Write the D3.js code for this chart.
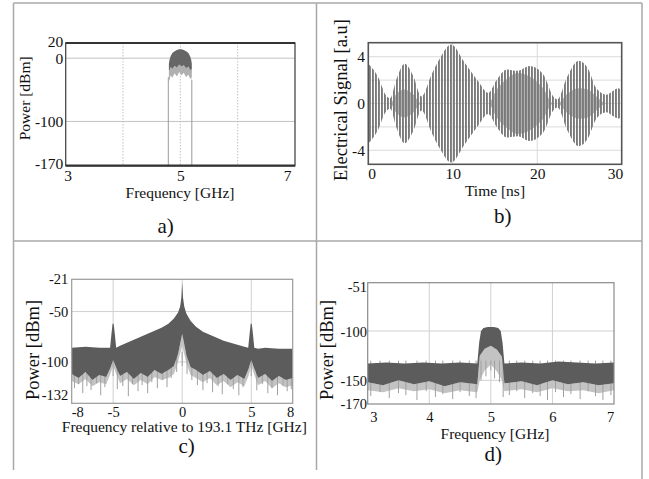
<!DOCTYPE html>
<html>
<head>
<meta charset="utf-8">
<script src="https://d3js.org/d3.v7.min.js"></script>
<style>
body { margin: 0; background: #fff; }
svg { display: block; }
</style>
</head>
<body>
<svg width="649" height="479"></svg>
<script>
// ---- a) RF spectrum of the drive signal ----
let aFreq  = [4.80, 4.81, 4.83, 4.86, 4.90, 4.94, 4.98, 5.02, 5.06, 5.10, 5.14, 5.17, 5.19, 5.20]
let aUpper = [-9, -3, 3, 8, 11, 13, 14, 14, 13, 11, 8, 3, -3, -9]
let aDark  = [-18, -20, -14, -17, -12, -15, -10, -13, -11, -16, -13, -19, -17, -21]
let aLight = [-32, -36, -27, -31, -24, -29, -22, -27, -23, -30, -26, -33, -30, -35]
let aEdgeFreq = [4.79, 5.20]
let aEdgeTop  = [-30, -34]

// ---- b) electrical signal, outer / inner envelope ----
let bTime  = [0, 0.6, 1.2, 2.0, 2.6, 3.3, 4.3, 5.3, 6.3, 7.5, 8.5, 9.8, 11.4, 13.0, 14.2, 15.2, 16.4, 17.7, 19.1, 20.7, 21.9, 22.4, 23.5, 24.9, 26.0, 27.0, 28.2, 29.0, 29.6, 30]
let bOuter = [3.4, 2.9, 2.2, 0.8, 0.45, 2.0, 3.4, 2.4, 0.6, 2.5, 3.9, 5.05, 3.5, 1.9, 0.9, 2.0, 2.9, 2.8, 3.2, 2.5, 0.6, 0.35, 2.2, 3.65, 3.0, 1.3, 0.75, 1.1, 1.3, 1.0]
let bInner = [0, 0, 0, 0, 0, 0.8, 1.2, 0.8, 0, 0, 0, 0, 0, 0, 0, 1.2, 2.1, 2.6, 2.3, 1.3, 0, 0, 0.8, 1.3, 1.2, 0.6, 0, 0, 0, 0]

// ---- c) optical spectrum ----
let cEnvFreq = [-8, -7, -6, -5.5, -5.22, -5.12, -5.04, -4.96, -4.88, -4.78, -4.5, -4, -3.5, -3, -2.5, -2, -1.5, -1, -0.6, -0.3,
                -0.15, -0.06, -0.02, 0, 0.02, 0.06, 0.15, 0.3, 0.6, 1, 1.5, 2, 2.5, 3, 3.5, 4, 4.5, 4.78, 4.88, 4.96,
                5.04, 5.12, 5.22, 5.5, 6, 7, 8]
let cUpper = [-86, -85, -86, -86, -86, -72, -62, -62, -72, -86, -84, -81, -78, -75, -72, -69, -66, -62, -57, -51,
              -45, -36, -26, -21, -26, -36, -45, -52, -59, -65, -70, -73, -76, -79, -81, -83, -85, -86, -72, -62,
              -62, -72, -86, -87, -86, -87, -87]
let cLowFreq = [-8, -7.5, -7, -6.5, -6, -5.5, -5.2, -5, -4.8, -4.5, -4, -3.5, -3, -2.5, -2, -1.5, -1, -0.6, -0.3, 0,
                0.3, 0.6, 1, 1.5, 2, 2.5, 3, 3.5, 4, 4.5, 4.8, 5, 5.2, 5.5, 6, 6.5, 7, 7.5, 8]
let cDark  = [-112, -116, -110, -118, -113, -115, -106, -98, -105, -114, -110, -117, -111, -115, -108, -112, -108, -104, -92, -72,
              -93, -105, -108, -113, -109, -116, -112, -118, -113, -117, -107, -98, -106, -116, -112, -119, -114, -118, -116]
let cLight = [-119, -122, -117, -124, -120, -122, -112, -104, -111, -121, -117, -123, -118, -122, -115, -118, -116, -112, -100, -84,
              -101, -113, -116, -120, -116, -123, -119, -125, -120, -124, -114, -104, -112, -123, -119, -126, -121, -125, -123]
let cSpikeFreq = [-7.8, -7.5, -7.2, -6.9, -6.6, -6.2, -5.9, -5.6, -5.0, -4.7, -4.3, -3.9, -3.6, -3.2, -2.9, -2.5, -2.2, -1.8, -1.4, -1.1,
                  -0.8, -0.4, 0, 0.35, 0.7, 1.1, 1.5, 1.8, 2.2, 2.6, 2.9, 3.3, 3.7, 4.1, 4.4, 5.0, 5.4, 5.8, 6.2, 6.5,
                  6.9, 7.3, 7.6, 7.9]
let cSpikeLow  = [-126, -122, -131, -124, -128, -121, -133, -125, -114, -127, -124, -134, -122, -129, -123, -131, -120, -126, -118, -125,
                  -116, -110, -104, -112, -118, -123, -128, -121, -130, -124, -132, -122, -127, -133, -125, -114, -128, -122, -131, -126,
                  -133, -124, -129, -127]

// ---- d) detected RF spectrum ----
let dEnvFreq = [3, 3.3, 3.6, 3.9, 4.2, 4.5, 4.78, 4.81, 4.84, 4.88, 4.95, 5.05, 5.12, 5.16, 5.19, 5.22, 5.5, 5.8, 6.1, 6.4, 6.7, 7]
let dUpper   = [-133, -132, -133, -132, -133, -132, -133, -112, -100, -97, -96, -96, -97, -100, -112, -133, -132, -133, -131, -132, -133, -132]
let dLowFreq = [3, 3.25, 3.5, 3.75, 4, 4.25, 4.5, 4.78, 4.82, 4.9, 5.0, 5.1, 5.18, 5.22, 5.5, 5.75, 6, 6.25, 6.5, 6.75, 7]
let dDark    = [-152, -155, -150, -154, -151, -156, -152, -154, -125, -118, -115, -119, -126, -153, -151, -155, -150, -154, -152, -155, -153]
let dLight   = [-160, -162, -158, -161, -159, -163, -160, -162, -150, -140, -134, -141, -150, -161, -159, -162, -158, -161, -160, -163, -160]
let dSpikeFreq = [3.05, 3.2, 3.35, 3.5, 3.62, 3.8, 3.95, 4.1, 4.22, 4.38, 4.5, 4.65, 4.76, 4.84, 4.92, 5.0, 5.06, 5.14, 5.2, 5.3,
                  5.42, 5.55, 5.68, 5.8, 5.92, 6.05, 6.18, 6.3, 6.45, 6.58, 6.7, 6.82, 6.95]
let dSpikeLow  = [-166, -162, -168, -163, -165, -170, -161, -167, -164, -169, -162, -166, -168, -150, -146, -140, -148, -152, -167, -165,
                  -161, -168, -163, -166, -170, -162, -167, -164, -169, -161, -166, -170, -165]

let serif = "'Liberation Serif', 'Times New Roman', Times, serif"
let darkGray = "#5c5c5c"

let svg = d3.select("svg").attr("font-family", serif)

// table lines of the figure
let table = svg.append("g").attr("stroke", "#a8a8a8").attr("stroke-width", 1.5)
table.append("line").attr("x1", 13.5).attr("x2", 13.5).attr("y1", 3).attr("y2", 470)
table.append("line").attr("x1", 316.5).attr("x2", 316.5).attr("y1", 3).attr("y2", 470)
table.append("line").attr("x1", 642).attr("x2", 642).attr("y1", 3).attr("y2", 479)
table.append("line").attr("x1", 13.5).attr("x2", 642).attr("y1", 3).attr("y2", 3)
table.append("line").attr("x1", 13.5).attr("x2", 642).attr("y1", 241).attr("y2", 241)

let defs = svg.append("defs")
let stripes = defs.append("pattern")
    .attr("id", "stripes")
    .attr("patternUnits", "userSpaceOnUse")
    .attr("width", 3)
    .attr("height", 10)
stripes.append("rect").attr("width", 1.9).attr("height", 10).attr("fill", "#7a7a7a")

function makePanel(p) {
    let x = d3.scaleLinear().domain(p.xDomain).range([p.left, p.right])
    let y = d3.scaleLinear().domain(p.yDomain).range([p.top, p.bottom])
    let g = svg.append("g")

    defs.append("clipPath").attr("id", p.id + "-clip")
        .append("rect")
        .attr("x", p.left).attr("y", p.top)
        .attr("width", p.right - p.left).attr("height", p.bottom - p.top)

    g.append("g").selectAll("line").data(p.yGrid).join("line")
        .attr("x1", p.left).attr("x2", p.right)
        .attr("y1", d => y(d)).attr("y2", d => y(d))
        .attr("stroke", p.gridColor).attr("stroke-width", 1)

    g.append("g").selectAll("line").data(p.xGrid).join("line")
        .attr("x1", d => x(d)).attr("x2", d => x(d))
        .attr("y1", p.top).attr("y2", p.bottom)
        .attr("stroke", p.gridColor).attr("stroke-width", 1)
        .attr("stroke-dasharray", p.xGridDash || null)

    let plot = g.append("g").attr("clip-path", "url(#" + p.id + "-clip)")
    return { x, y, g, plot }
}

function finishPanel(panel, p) {
    let { x, y, g } = panel
    g.append("rect")
        .attr("x", p.left).attr("y", p.top)
        .attr("width", p.right - p.left).attr("height", p.bottom - p.top)
        .attr("fill", "none")
        .attr("stroke", p.frameColor).attr("stroke-width", p.frameWidth)

    let xAxis = d3.axisBottom(x).tickValues(p.xTicks).tickSize(0).tickPadding(0).tickFormat(d => String(d))
    let gx = g.append("g").attr("transform", "translate(0," + p.xTickY + ")").call(xAxis)
    gx.select(".domain").remove()
    gx.attr("font-family", serif).attr("font-size", p.tickSize)
    gx.selectAll("text")
        .attr("fill", "#111")
        .attr("y", 0).attr("dy", "0.35em")
        .attr("dx", (d, i) => i == 0 ? p.xNudge[0] : (i == p.xTicks.length - 1 ? p.xNudge[1] : 0))

    let yAxis = d3.axisLeft(y).tickValues(p.yTicks).tickSize(0).tickPadding(0).tickFormat(d => String(d))
    let gy = g.append("g").attr("transform", "translate(" + p.yTickX + ",0)").call(yAxis)
    gy.select(".domain").remove()
    gy.attr("font-family", serif).attr("font-size", p.tickSize)
    gy.selectAll("text")
        .attr("fill", "#111")
        .attr("x", 0)
        .attr("dy", (d, i) => (i == 0 ? p.yNudge[0] : (i == p.yTicks.length - 1 ? p.yNudge[1] : 0)) + 5)

    g.append("text")
        .attr("x", p.xLabel[0]).attr("y", p.xLabel[1])
        .attr("text-anchor", "middle").attr("dy", "0.33em")
        .attr("font-family", serif).attr("font-size", 15.5).attr("fill", "#111")
        .text(p.xTitle)

    g.append("text")
        .attr("transform", "translate(" + p.yLabel[0] + "," + p.yLabel[1] + ") rotate(-90)")
        .attr("text-anchor", "middle").attr("dy", "0.33em")
        .attr("font-family", serif).attr("font-size", p.yTitleSize).attr("fill", "#111")
        .text(p.yTitle)

    g.append("text")
        .attr("x", p.caption[0]).attr("y", p.caption[1])
        .attr("text-anchor", "middle").attr("dy", "0.3em")
        .attr("font-family", serif).attr("font-size", 21).attr("fill", "#111")
        .text(p.captionText)
}

// closed outline: upper envelope left->right, then lower edge right->left
function bandPath(panel, upperF, upperV, lowerF, lowerV) {
    let pts = upperF.map((f, i) => [f, upperV[i]])
        .concat(lowerF.map((f, i) => [f, lowerV[i]]).reverse())
    return d3.line().x(d => panel.x(d[0])).y(d => panel.y(d[1]))(pts) + "Z"
}

// spectrum: light fringe + light spike lines + dark band
function drawSpectrum(panel, envF, upper, lowF, dark, light, spikeF, spikeLow, spikeTop) {
    let { x, y, plot } = panel
    plot.append("path")
        .attr("d", bandPath(panel, lowF, dark, lowF, light))
        .attr("fill", "#c3c3c3")

    plot.append("g").selectAll("line").data(spikeF).join("line")
        .attr("x1", d => x(d)).attr("x2", d => x(d))
        .attr("y1", y(spikeTop)).attr("y2", (d, i) => y(spikeLow[i]))
        .attr("stroke", "#a0a0a0").attr("stroke-width", 1)

    plot.append("path")
        .attr("d", bandPath(panel, envF, upper, lowF, dark))
        .attr("fill", darkGray)
}

// ---------- panel a ----------
let pa = {
    id: "pa", left: 65.7, right: 295, top: 43, bottom: 165.7,
    xDomain: [3, 7], yDomain: [24, -170],
    xGrid: [4, 5, 6], xGridDash: "1.5,1.5", yGrid: [0, -100], gridColor: "#c2c2c2",
    xTicks: [3, 5, 7], yTicks: [20, 0, -100, -170],
    xTickY: 175.7, yTickX: 63.3, xNudge: [2, -8], yNudge: [-4, -2], tickSize: 15.5,
    frameColor: "#4a4a4a", frameWidth: 1.3,
    xTitle: "Frequency [GHz]", xLabel: [180, 192.7],
    yTitle: "Power [dBm]", yLabel: [25, 98.3], yTitleSize: 15.5,
    captionText: "a)", caption: [165.7, 226.7]
}
let panelA = makePanel(pa)
panelA.plot.append("g").selectAll("line").data(aEdgeFreq).join("line")
    .attr("x1", d => panelA.x(d)).attr("x2", d => panelA.x(d))
    .attr("y1", pa.bottom).attr("y2", (d, i) => panelA.y(aEdgeTop[i]))
    .attr("stroke", "#9a9a9a").attr("stroke-width", 1)
panelA.plot.append("path")
    .attr("d", bandPath(panelA, aFreq, aDark, aFreq, aLight))
    .attr("fill", "#b0b0b0")
panelA.plot.append("path")
    .attr("d", bandPath(panelA, aFreq, aUpper, aFreq, aDark))
    .attr("fill", "#666")
finishPanel(panelA, pa)
// heavier top and bottom edges
panelA.g.append("g").selectAll("line").data(pa.yDomain).join("line")
    .attr("x1", pa.left).attr("x2", pa.right)
    .attr("y1", d => panelA.y(d)).attr("y2", d => panelA.y(d))
    .attr("stroke", "#333").attr("stroke-width", 2.2)

// ---------- panel b ----------
let pb = {
    id: "pb", left: 368.3, right: 621.7, top: 42.7, bottom: 164.3,
    xDomain: [0, 30], yDomain: [5.2, -5.2],
    xGrid: [10, 20], yGrid: [4, 2, 0, -2, -4], gridColor: "#dadada",
    xTicks: [0, 10, 20, 30], yTicks: [4, 0, -4],
    xTickY: 173.3, yTickX: 365, xNudge: [3.4, -6.7], yNudge: [0, 0], tickSize: 15.5,
    frameColor: "#555", frameWidth: 1.6,
    xTitle: "Time [ns]", xLabel: [495, 190.7],
    yTitle: "Electrical Signal [a.u]", yLabel: [341, 100], yTitleSize: 18.5,
    captionText: "b)", caption: [502.7, 216.7]
}
let panelB = makePanel(pb)
let bRows = bTime.map((t, i) => ({ t: t, outer: bOuter[i], inner: bInner[i] }))
panelB.plot.append("path").datum(bRows)
    .attr("d", d3.area().curve(d3.curveMonotoneX)
        .x(d => panelB.x(d.t)).y0(d => panelB.y(-d.inner)).y1(d => panelB.y(d.inner)))
    .attr("fill", "#b2b2b2")
panelB.plot.append("path").datum(bRows)
    .attr("d", d3.area().curve(d3.curveMonotoneX)
        .x(d => panelB.x(d.t)).y0(d => panelB.y(-d.outer)).y1(d => panelB.y(d.outer)))
    .attr("fill", "url(#stripes)")
finishPanel(panelB, pb)

// ---------- panel c ----------
let pc = {
    id: "pc", left: 71.7, right: 292.7, top: 279.3, bottom: 403.3,
    xDomain: [-8, 8], yDomain: [-18, -141],
    xGrid: [-5, 0, 5], yGrid: [-50, -100], gridColor: "#d0d0d0",
    xTicks: [-8, -5, 0, 5, 8], yTicks: [-21, -50, -100, -132],
    xTickY: 411.7, yTickX: 68.3, xNudge: [5.6, -2.7], yNudge: [-4, 0], tickSize: 14.5,
    frameColor: "#9a9a9a", frameWidth: 1.2,
    xTitle: "Frequency relative to 193.1 THz [GHz]", xLabel: [184.3, 427.3],
    yTitle: "Power [dBm]", yLabel: [33.3, 350], yTitleSize: 18.5,
    captionText: "c)", caption: [186.7, 447]
}
let panelC = makePanel(pc)
drawSpectrum(panelC, cEnvFreq, cUpper, cLowFreq, cDark, cLight, cSpikeFreq, cSpikeLow, -90)
finishPanel(panelC, pc)

// ---------- panel d ----------
let pd = {
    id: "pd", left: 367.7, right: 614, top: 282.7, bottom: 404,
    xDomain: [3, 7], yDomain: [-51, -174],
    xGrid: [4, 5, 6], yGrid: [-100, -150], gridColor: "#d0d0d0",
    xTicks: [3, 4, 5, 6, 7], yTicks: [-51, -100, -150, -170],
    xTickY: 417.3, yTickX: 367, xNudge: [5.6, -4], yNudge: [4, 3.5], tickSize: 14.5,
    frameColor: "#8a8a8a", frameWidth: 1.2,
    xTitle: "Frequency [GHz]", xLabel: [495, 433.5],
    yTitle: "Power [dBm]", yLabel: [326.7, 350], yTitleSize: 18.5,
    captionText: "d)", caption: [493.3, 454.5]
}
let panelD = makePanel(pd)
drawSpectrum(panelD, dEnvFreq, dUpper, dLowFreq, dDark, dLight, dSpikeFreq, dSpikeLow, -130)
finishPanel(panelD, pd)
</script>
</body>
</html>
